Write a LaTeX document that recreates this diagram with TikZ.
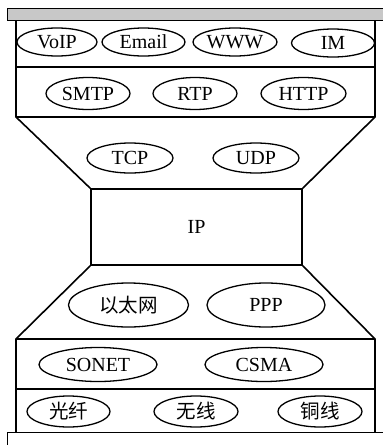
\documentclass[tikz,border=0pt]{standalone}
\usepackage{fontspec}
\setmainfont{Liberation Serif}
\newfontfamily\cjk{Noto Sans CJK SC}
\usetikzlibrary{shapes.geometric}
\definecolor{bargray}{RGB}{200,200,200}
\tikzset{
  proto/.style={ellipse, draw, line width=1.3pt, inner sep=0pt,
    font=\fontsize{20}{20}\selectfont},
  cjkproto/.style={proto, font=\cjk\fontsize{19.5}{19.5}\selectfont},
  frame/.style={line width=1.6pt},
  ipbox/.style={draw, line width=1.6pt, rectangle, inner sep=0pt,
    font=\fontsize{20}{20}\selectfont}
}
\begin{document}
\begin{tikzpicture}[x=1pt,y=-1pt]
\useasboundingbox (0,0) rectangle (383,445);
% top and bottom bars
\draw[frame, fill=bargray] (7.5,8.5) rectangle (390,20.5);
\draw[frame, fill=white] (7.5,432.5) rectangle (390,450);
% corner coordinates of the hourglass outline
\coordinate (tl) at (16,20.5);
\coordinate (tr) at (375,20.5);
\coordinate (d1l) at (16,66.7);
\coordinate (d1r) at (375,66.7);
\coordinate (d2l) at (16,117);
\coordinate (d2r) at (375,117);
\coordinate (d3l) at (16,339);
\coordinate (d3r) at (375,339);
\coordinate (d4l) at (16,389);
\coordinate (d4r) at (375,389);
\coordinate (bl) at (16,432.5);
\coordinate (br) at (375,432.5);
% IP waist
\node[ipbox, minimum width=211pt, minimum height=76pt] (ip) at (196.5,227) {IP};
% upper part
\draw[frame] (tl) -- (d2l) -- (ip.north west);
\draw[frame] (tr) -- (d2r) -- (ip.north east);
\draw[frame] (d1l) -- (d1r);
\draw[frame] (d2l) -- (d2r);
% lower part
\draw[frame] (ip.south west) -- (d3l) -- (bl);
\draw[frame] (ip.south east) -- (d3r) -- (br);
\draw[frame] (d3l) -- (d3r);
\draw[frame] (d4l) -- (d4r);
% application row
\node[proto, minimum width=80pt, minimum height=28pt] (voip) at (57,42) {VoIP};
\node[proto, minimum width=83pt, minimum height=28pt] (email) at (143.5,42) {Email};
\node[proto, minimum width=84pt, minimum height=28pt] (www) at (235,42) {WWW};
\node[proto, minimum width=83pt, minimum height=28pt] (im) at (333,43) {IM};
% application protocols
\node[proto, minimum width=84pt, minimum height=32pt] (smtp) at (88,93.5) {SMTP};
\node[proto, minimum width=84pt, minimum height=32pt] (rtp) at (195,93.5) {RTP};
\node[proto, minimum width=85pt, minimum height=32pt] (http) at (303.5,93.5) {HTTP};
% transport
\node[proto, minimum width=86pt, minimum height=30pt] (tcp) at (130,158) {TCP};
\node[proto, minimum width=86pt, minimum height=30pt] (udp) at (256,158) {UDP};
% link
\node[cjkproto, minimum width=120pt, minimum height=44pt] (eth) at (128.5,305) {以太网};
\node[proto, minimum width=118pt, minimum height=44pt] (ppp) at (266,305) {PPP};
\node[proto, minimum width=118pt, minimum height=34pt] (sonet) at (98,364.5) {SONET};
\node[proto, minimum width=118pt, minimum height=34pt] (csma) at (264,364.5) {CSMA};
% physical media
\node[cjkproto, minimum width=83pt, minimum height=31pt] (fiber) at (68.5,411.5) {光纤};
\node[cjkproto, minimum width=84pt, minimum height=31pt] (radio) at (196,411.5) {无线};
\node[cjkproto, minimum width=84pt, minimum height=31pt] (copper) at (320,411.5) {铜线};
\end{tikzpicture}
\end{document}
